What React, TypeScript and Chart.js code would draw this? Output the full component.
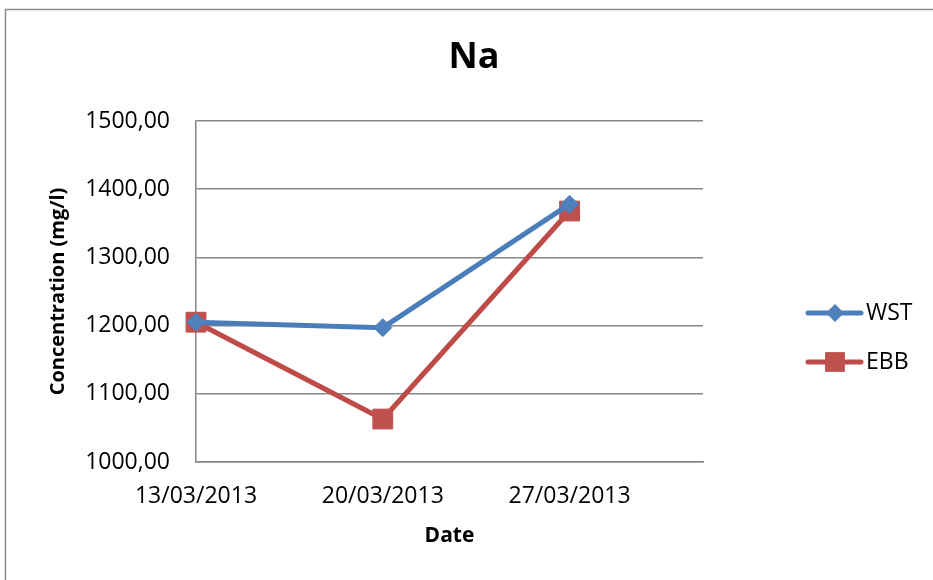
import React, { useEffect, useRef } from 'react';
import { Chart, registerables } from 'chart.js';

Chart.register(...registerables);

const chartTitle = 'Na';
const dates = ['13/03/2013', '20/03/2013', '27/03/2013'];
const axisEndDate = '01/04/2013';
const seriesNames = ['WST', 'EBB'];
const wstValues = [1205, 1197, 1378];
const ebbValues = [1205, 1063, 1368];
const yTickValues = [1000, 1100, 1200, 1300, 1400, 1500];
const yTitle = 'Concentration (mg/l)';
const xTitle = 'Date';

const BLUE_LINE = '#4a7ebb';
const BLUE_FILL = '#4f81bd';
const RED_LINE = '#be4b48';
const RED_FILL = '#c0504d';
const GRID = '#868686';
const FONT = "'Open Sans', 'Noto Sans', sans-serif";

function parseDate(s: string): number {
  const [d, m, y] = s.split('/').map(Number);
  return Date.UTC(y, m - 1, d);
}
const day0 = parseDate(dates[0]);
const dayOffset = (s: string) => Math.round((parseDate(s) - day0) / 86400000);
const xValues = dates.map(dayOffset);
const xMax = dayOffset(axisEndDate);

function drawMarker(ctx: CanvasRenderingContext2D, style: string, x: number, y: number, r: number, color: string) {
  ctx.save();
  ctx.fillStyle = color;
  ctx.beginPath();
  if (style === 'rectRot') {
    ctx.moveTo(x, y - r);
    ctx.lineTo(x + r, y);
    ctx.lineTo(x, y + r);
    ctx.lineTo(x - r, y);
    ctx.closePath();
  } else {
    const s = r * Math.SQRT1_2;
    ctx.rect(x - s, y - s, 2 * s, 2 * s);
  }
  ctx.fill();
  ctx.restore();
}

const decorPlugin = {
  id: 'decor',
  afterDraw(chart: any) {
    const { ctx, chartArea } = chart;
    ctx.save();
    // outer frame
    ctx.strokeStyle = '#8c8c8c';
    ctx.lineWidth = 1.5;
    ctx.beginPath();
    ctx.moveTo(5.5, 600);
    ctx.lineTo(5.5, 9.5);
    ctx.lineTo(1000, 9.5);
    ctx.stroke();
    // title
    ctx.fillStyle = '#000';
    ctx.font = `bold 36px ${FONT}`;
    ctx.textAlign = 'center';
    ctx.textBaseline = 'middle';
    ctx.fillText(chartTitle, 474, 58);
    // legend
    const x0 = chartArea.right + 105;
    chart.data.datasets.forEach((ds: any, i: number) => {
      const y = 313 + i * 49;
      ctx.strokeStyle = ds.borderColor;
      ctx.lineWidth = 5;
      ctx.lineCap = 'round';
      ctx.beginPath();
      ctx.moveTo(x0, y);
      ctx.lineTo(x0 + 53, y);
      ctx.stroke();
      drawMarker(ctx, ds.pointStyle, x0 + 27, y, ds.pointRadius, ds.pointBackgroundColor);
      ctx.fillStyle = '#000';
      ctx.font = `23px ${FONT}`;
      ctx.textAlign = 'left';
      ctx.textBaseline = 'middle';
      ctx.fillText(ds.label, x0 + 58, y);
    });
    ctx.restore();
  },
};

export default function App() {
  const canvasRef = useRef<HTMLCanvasElement | null>(null);

  useEffect(() => {
    const canvas = canvasRef.current;
    if (!canvas) return;
    const chart = new Chart(canvas, {
      type: 'line',
      data: {
        datasets: [
          {
            label: seriesNames[0],
            data: xValues.map((x, i) => ({ x, y: wstValues[i] })),
            borderColor: BLUE_LINE,
            backgroundColor: BLUE_FILL,
            pointBackgroundColor: BLUE_FILL,
            pointBorderColor: BLUE_FILL,
            pointBorderWidth: 1,
            pointStyle: 'rectRot',
            pointRadius: 9,
            borderWidth: 5,
            tension: 0,
            clip: false,
          },
          {
            label: seriesNames[1],
            data: xValues.map((x, i) => ({ x, y: ebbValues[i] })),
            borderColor: RED_LINE,
            backgroundColor: RED_FILL,
            pointBackgroundColor: RED_FILL,
            pointBorderColor: RED_FILL,
            pointBorderWidth: 1,
            pointStyle: 'rect',
            pointRadius: 14,
            borderWidth: 5,
            tension: 0,
            clip: false,
          },
        ],
      },
      options: {
        animation: false,
        responsive: true,
        maintainAspectRatio: false,
        layout: { padding: { top: 121, right: 230, bottom: 0, left: 0 } },
        plugins: {
          legend: { display: false },
          title: { display: false },
          tooltip: { enabled: false },
        },
        scales: {
          x: {
            type: 'linear',
            min: 0,
            max: xMax,
            afterBuildTicks: (scale: any) => {
              scale.ticks = xValues.map((v) => ({ value: v }));
            },
            afterFit: (scale: any) => {
              scale.height = 118;
            },
            grid: { display: false, drawTicks: false },
            border: { display: true, color: GRID, width: 1.5 },
            ticks: {
              color: '#000',
              font: { family: FONT, size: 23 },
              padding: 21,
              maxRotation: 0,
              callback: (v: any) => {
                const idx = xValues.indexOf(Number(v));
                return idx >= 0 ? dates[idx] : '';
              },
            },
            title: {
              display: true,
              text: xTitle,
              color: '#000',
              font: { family: FONT, size: 21, weight: 'bold' },
              padding: { top: 0, bottom: 31 },
            },
          },
          y: {
            type: 'linear',
            min: yTickValues[0],
            max: yTickValues[yTickValues.length - 1],
            afterBuildTicks: (scale: any) => {
              scale.ticks = yTickValues.map((v) => ({ value: v }));
            },
            afterFit: (scale: any) => {
              scale.width = 196;
            },
            grid: { color: GRID, lineWidth: 1.5, drawTicks: false },
            border: { display: true, color: GRID, width: 1.5 },
            ticks: {
              color: '#000',
              font: { family: FONT, size: 23 },
              padding: 26,
              callback: (v: any) => Number(v).toFixed(2).replace('.', ','),
            },
            title: {
              display: true,
              text: yTitle,
              color: '#000',
              font: { family: FONT, size: 20, weight: 'bold' },
              padding: { top: 46, bottom: 0 },
            },
          },
        },
      },
      plugins: [decorPlugin],
    } as any);
    return () => chart.destroy();
  }, []);

  return (
    <div style={{ position: 'fixed', left: 0, top: 0, width: 933, height: 580, background: '#fff' }}>
      <canvas ref={canvasRef} />
    </div>
  );
}
